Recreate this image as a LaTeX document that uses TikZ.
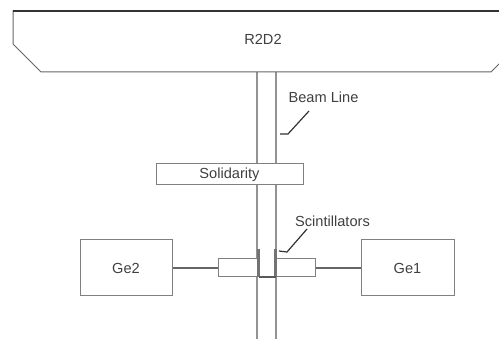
\documentclass[tikz,border=0pt]{standalone}
\usepackage{fontspec}
\setmainfont{Liberation Sans}
\definecolor{ln}{gray}{0.5}
\definecolor{txt}{gray}{0.25}
\tikzset{
  x=1pt,y=-1pt,
  shapebox/.style={draw=ln,line width=1pt,fill=white,line join=miter},
  box/.style={shapebox,rectangle,inner sep=0pt,minimum width=#1},
  lbl/.style={text=txt,font=\fontsize{14.6}{16}\selectfont,inner sep=0pt},
  beam/.style={draw=ln!85!white,line width=1.3pt},
  wire/.style={draw=black!60,line width=2.2pt},
  leader/.style={draw=black!80,line width=1.2pt},
  scint/.style={draw=black!55,line width=3pt}
}
\begin{document}
\begin{tikzpicture}
\useasboundingbox[fill=white] (0,0) rectangle (499,339);
\clip (0,0) rectangle (499,339);
% beam line
\coordinate (bl1) at (257,72); \coordinate (bl2) at (257,339);
\coordinate (br1) at (276,72); \coordinate (br2) at (276,339);
\draw[beam] (bl1) -- (bl2);
\draw[beam] (br1) -- (br2);
% R2D2
\draw[draw=black!60,line width=1pt,fill=white] (13,11) -- (505,11) -- (505,58) -- (491,72) -- (41,72) -- (13,44) -- cycle;
\draw[draw=black!80,line width=1.2pt] (13,11) -- (499,11);
\node[lbl] (r2d2) at (263,39) {R2D2};
% Solidarity
\node[box=147pt,minimum height=21pt] (sol) at (229.5,174.5) {};
\node[lbl] at (sol.center) {Solidarity};
% detectors
\node[box=92pt,minimum height=56pt] (ge2) at (126,268) {};
\node[lbl] at (ge2.center) {Ge2};
\node[box=93pt,minimum height=56pt] (ge1) at (407.5,268) {};
\node[lbl] at (ge1.center) {Ge1};
\node[box=39pt,minimum height=18pt] (hl) at (237.5,268) {};
\node[box=39pt,minimum height=18pt] (hr) at (295.5,268) {};
\draw[wire] (ge2.east) -- (hl.west);
\draw[wire] (hr.east) -- (ge1.west);
% scintillators
\coordinate (sl) at (258.5,249); \coordinate (slb) at (258.5,277);
\coordinate (sr) at (275.5,249); \coordinate (srb) at (275.5,277);
\draw[scint] (sl) -- (slb);
\draw[scint] (sr) -- (srb);
\draw[draw=black!65,line width=1.5pt] (slb) -- (srb);
% labels and leaders
\node[lbl] (beamlbl) at (323.5,97.5) {Beam Line};
\coordinate (ba) at (309,111); \coordinate (bb) at (288,134); \coordinate (bc) at (280,134);
\draw[leader] (ba) -- (bb) -- (bc);
\node[lbl] (scilbl) at (332.5,221.5) {Scintillators};
\coordinate (sa) at (307,229); \coordinate (sb) at (287,252); \coordinate (sc) at (279,251);
\draw[leader] (sa) -- (sb) -- (sc);
\end{tikzpicture}
\end{document}
